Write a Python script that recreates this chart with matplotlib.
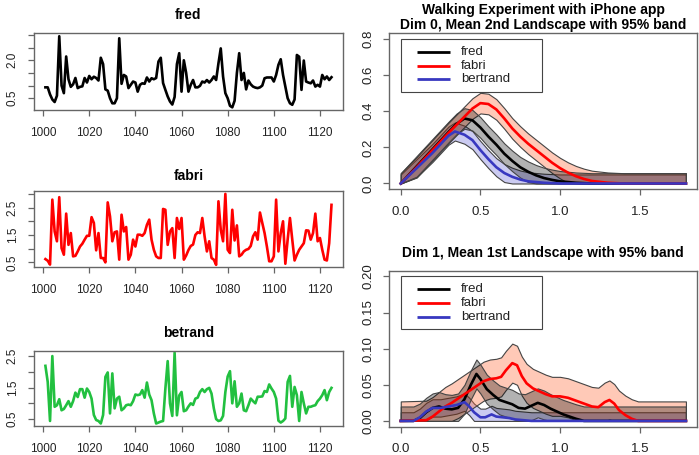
import matplotlib
matplotlib.use("Agg")
import matplotlib.pyplot as plt
import numpy as np

plt.rcParams['font.family'] = ['Liberation Sans', 'DejaVu Sans']

# --- walking time series (index 1001..1125) ---
steps = list(range(1001, 1126))

fred = [0.93, 0.93, 0.65, 0.45, 0.35, 0.6, 2.95, 1.0, 0.7, 2.15,
        1.25, 0.95, 1.05, 1.3, 0.9, 0.95, 0.97, 1.3, 1.12, 1.38,
        1.25, 1.35, 1.3, 1.2, 2.1, 1.85, 0.85, 0.8, 0.5, 0.3,
        0.3, 0.5, 2.87, 1.07, 1.42, 1.36, 0.9, 1.03, 1.16, 1.12,
        0.76, 1.03, 1.09, 1.07, 1.32, 1.16, 1.29, 1.25, 1.3, 1.95,
        2.1, 1.1, 0.83, 0.57, 0.37, 0.25, 0.55, 1.85, 2.28, 0.76,
        2.0, 1.5, 0.76, 1.03, 1.22, 0.93, 0.93, 0.99, 1.16, 1.12,
        1.22, 1.12, 1.22, 1.36, 1.22, 1.88, 2.47, 1.36, 0.7, 0.5,
        0.2, 0.14, 0.4, 1.5, 2.28, 1.22, 1.5, 0.85, 1.2, 1.05,
        0.96, 0.92, 0.9, 0.93, 1.0, 1.29, 1.32, 1.32, 1.32, 1.16,
        1.42, 1.82, 2.04, 1.42, 0.96, 0.5, 0.3, 0.24, 0.45, 2.21,
        2.14, 0.83, 1.99, 1.16, 1.12, 1.09, 1.2, 0.96, 1.03, 0.96,
        1.42, 1.25, 1.36, 1.22, 1.33]

fabri = [0.62, 0.56, 0.42, 2.79, 1.63, 1.27, 2.88, 1.02, 0.78, 2.28,
         1.14, 1.57, 0.72, 0.74, 0.9, 1.08, 1.18, 1.33, 1.47, 1.47,
         2.15, 1.94, 0.94, 1.57, 0.66, 0.66, 0.5, 2.69, 2.18, 1.27,
         1.6, 1.63, 0.6, 2.24, 1.63, 1.79, 0.6, 0.78, 1.33, 1.08,
         1.51, 1.51, 1.47, 1.57, 1.87, 2.06, 1.33, 0.96, 0.72, 0.66,
         0.66, 2.45, 2.42, 1.14, 1.63, 1.75, 0.66, 2.12, 1.72, 2.12,
         0.6, 0.75, 0.95, 1.1, 1.15, 1.5, 1.6, 1.57, 2.12, 1.45,
         0.9, 1.27, 0.66, 0.6, 0.41, 2.73, 1.69, 1.27, 3.0, 0.96,
         0.84, 2.42, 1.3, 1.85, 0.72, 0.78, 0.9, 0.96, 0.99, 1.1,
         1.45, 1.6, 1.33, 2.32, 1.94, 1.57, 1.08, 0.54, 0.54, 0.72,
         2.79, 0.9, 1.57, 2.0, 0.45, 1.33, 2.12, 1.33, 0.57, 0.78,
         0.96, 1.08, 1.2, 1.67, 1.66, 1.33, 1.57, 2.28, 1.27, 1.39,
         0.96, 0.6, 0.57, 1.2, 2.6]

betrand = [2.19, 1.68, 0.44, 2.5, 0.89, 0.94, 1.13, 0.78, 0.82, 0.94,
           1.07, 0.89, 1.07, 1.34, 1.2, 1.45, 1.45, 1.18, 1.47, 1.36,
           1.15, 0.63, 0.47, 0.44, 0.36, 0.63, 1.84, 1.98, 0.68, 1.95,
           0.84, 1.15, 1.21, 0.78, 0.84, 0.94, 0.96, 0.94, 1.07, 1.28,
           1.26, 1.28, 1.42, 1.18, 1.66, 1.28, 1.1, 0.68, 0.36, 0.39,
           0.42, 0.44, 1.47, 2.34, 1.0, 0.6, 2.61, 0.62, 1.25, 1.36,
           0.75, 0.78, 0.9, 1.0, 0.95, 1.15, 1.18, 1.36, 1.45, 1.36,
           1.45, 1.49, 1.31, 0.84, 0.5, 0.44, 0.46, 0.6, 1.36, 1.85,
           2.02, 1.0, 1.7, 0.89, 1.0, 1.31, 0.78, 0.75, 0.94, 1.15,
           1.07, 1.0, 1.21, 1.21, 1.22, 1.39, 1.36, 1.6, 1.47, 1.36,
           1.15, 0.45, 0.39, 0.44, 0.52, 1.68, 1.87, 0.89, 1.52, 1.26,
           0.44, 1.36, 1.0, 0.68, 0.89, 0.89, 0.92, 0.94, 1.07, 1.15,
           1.26, 1.42, 1.1, 1.36, 1.49]

# --- Dim 0, mean 2nd landscape ---
d0_fred_x = [0, 0.1, 0.2, 0.3, 0.35, 0.4, 0.45, 0.5, 0.55, 0.6, 0.65, 0.7, 0.75,
             0.8, 0.85, 0.9, 0.95, 1.0, 1.1, 1.2, 1.79]
d0_fred_y = [0, 0.095, 0.19, 0.285, 0.33, 0.36, 0.35, 0.31, 0.26, 0.215, 0.165,
             0.125, 0.09, 0.065, 0.045, 0.03, 0.02, 0.012, 0.004, 0, 0]
d0_fabri_x = [0, 0.1, 0.2, 0.3, 0.35, 0.4, 0.45, 0.5, 0.55, 0.6, 0.65, 0.7, 0.75,
              0.8, 0.85, 0.9, 0.95, 1.0, 1.05, 1.1, 1.15, 1.2, 1.3, 1.4, 1.79]
d0_fabri_y = [0, 0.09, 0.185, 0.28, 0.325, 0.37, 0.415, 0.445, 0.44, 0.41, 0.36,
              0.305, 0.26, 0.22, 0.185, 0.15, 0.115, 0.085, 0.06, 0.04, 0.025,
              0.014, 0.004, 0, 0]
d0_bert_x = [0, 0.1, 0.2, 0.3, 0.34, 0.4, 0.45, 0.5, 0.55, 0.6, 0.65, 0.7, 0.75,
             0.8, 0.9, 1.0, 1.79]
d0_bert_y = [0, 0.085, 0.17, 0.265, 0.288, 0.27, 0.24, 0.185, 0.135, 0.09, 0.058,
             0.037, 0.022, 0.012, 0.004, 0, 0]
d0_halfwidth = {'fred': 0.057, 'fabri': 0.057, 'bertrand': 0.05}

# --- Dim 1, mean 1st landscape ---
d1_fred_x = [0, 0.08, 0.12, 0.16, 0.2, 0.24, 0.28, 0.32, 0.36, 0.4, 0.44, 0.475,
             0.5, 0.54, 0.58, 0.62, 0.66, 0.7, 0.74, 0.78, 0.82, 0.86, 0.9, 0.94,
             0.98, 1.02, 1.06, 1.1, 1.15, 1.79]
d1_fred_y = [0, 0, 0.004, 0.012, 0.018, 0.02, 0.017, 0.016, 0.018, 0.03, 0.05,
             0.065, 0.058, 0.044, 0.036, 0.029, 0.026, 0.023, 0.018, 0.017, 0.021,
             0.025, 0.022, 0.017, 0.013, 0.009, 0.006, 0.003, 0, 0]
d1_fabri_x = [0, 0.16, 0.2, 0.24, 0.28, 0.32, 0.36, 0.4, 0.44, 0.48, 0.52, 0.56,
              0.6, 0.63, 0.66, 0.7, 0.73, 0.76, 0.79, 0.83, 0.87, 0.91, 0.95, 1.0,
              1.05, 1.1, 1.15, 1.2, 1.24, 1.28, 1.31, 1.34, 1.37, 1.41, 1.45, 1.49,
              1.79]
d1_fabri_y = [0, 0.001, 0.006, 0.013, 0.02, 0.025, 0.031, 0.037, 0.043, 0.049,
              0.055, 0.058, 0.059, 0.061, 0.07, 0.08, 0.077, 0.062, 0.052, 0.045,
              0.041, 0.037, 0.034, 0.034, 0.032, 0.028, 0.024, 0.02, 0.019, 0.026,
              0.029, 0.024, 0.015, 0.008, 0.003, 0, 0]
d1_bert_x = [0, 0.08, 0.12, 0.16, 0.2, 0.25, 0.3, 0.35, 0.4, 0.43, 0.46, 0.5, 0.53,
             0.57, 0.6, 0.64, 0.68, 0.72, 0.77, 0.82, 1.79]
d1_bert_y = [0, 0, 0.005, 0.013, 0.018, 0.018, 0.02, 0.022, 0.026, 0.02, 0.012,
             0.005, 0.005, 0.009, 0.006, 0.005, 0.004, 0.002, 0.001, 0, 0]
d1_halfwidth = {'fred': 0.02, 'fabri': 0.027, 'bertrand': 0.012}

names = ['fred', 'fabri', 'bertrand']
line_cols = {'fred': 'black', 'fabri': 'red', 'bertrand': '#3838c0'}
band_cols = {'fred': (0, 0, 0, 0.3), 'fabri': (1.0, 0.42, 0.22, 0.36),
             'bertrand': (0.25, 0.25, 0.8, 0.27)}

box_col = '#666666'
txt_col = '#222222'

fig = plt.figure(figsize=(6.99, 4.55), dpi=100)


def r_style(ax, fs):
    for s in ax.spines.values():
        s.set_color(box_col)
        s.set_linewidth(1.0)
    ax.tick_params(direction='out', length=4, width=0.9, color=box_col,
                   labelsize=fs, labelcolor=txt_col)
    ax.tick_params(axis='x', pad=8)
    ax.tick_params(axis='y', pad=7, labelrotation=90)
    for t in ax.get_yticklabels():
        t.set_va('center')


def ts_panel(pos, vals, col, title, yticks, ylabels, ylim, tpad):
    ax = fig.add_axes(pos)
    ax.plot(steps, vals, color=col, lw=1.9)
    ax.set_xlim(996.04, 1129.96)
    ax.set_ylim(ylim)
    ax.set_xticks(range(1000, 1121, 20))
    ax.set_yticks(yticks)
    ax.set_yticklabels(ylabels)
    ax.set_title(title, fontsize=10, fontweight='bold', pad=tpad)
    r_style(ax, 8.5)
    return ax


ts_panel([0.0486, 0.758, 0.442, 0.169], fred, 'black', 'fred',
         [0.5, 1.0, 1.5, 2.0, 2.5, 3.0], ['0.5', '', '', '2.0', '', ''], (0.03, 3.07), 10)
ts_panel([0.0486, 0.4125, 0.442, 0.168], fabri, 'red', 'fabri',
         [0.5, 1.0, 1.5, 2.0, 2.5, 3.0], ['0.5', '', '1.5', '', '2.5', ''], (0.32, 3.11), 8)
ts_panel([0.0486, 0.0637, 0.442, 0.1655], betrand, '#22c040', 'betrand',
         [0.5, 1.0, 1.5, 2.0, 2.5], ['0.5', '', '1.5', '', '2.5'], (0.28, 2.67), 10)


def legend_box(ax):
    ax.add_patch(plt.Rectangle((0.037, 0.626), 0.458, 0.337, transform=ax.transAxes,
                               facecolor='white', edgecolor='#444444', lw=0.8, zorder=5))
    for i, nm in enumerate(names):
        yy = 0.88 - 0.088 * i
        ax.plot([0.089, 0.197], [yy, yy], transform=ax.transAxes, color=line_cols[nm],
                lw=2, zorder=6, solid_capstyle='butt')
        ax.text(0.232, yy, nm, transform=ax.transAxes, fontsize=9.5, va='center',
                color=txt_col, zorder=6)


def landscape_panel(pos, curves, halfw, ylim, yticks, ylabels, title, pad):
    ax = fig.add_axes(pos)
    # bands first (blue, salmon, grey), then the mean lines on top
    for nm in ['bertrand', 'fabri', 'fred']:
        x, m = curves[nm]
        m = np.array(m)
        ax.fill_between(x, np.maximum(m - halfw[nm], 0), m + halfw[nm],
                        facecolor=band_cols[nm], edgecolor='#444444', lw=0.8)
    for nm in names:
        x, m = curves[nm]
        ax.plot(x, m, color=line_cols[nm], lw=1.9)
    ax.set_xlim(-0.0716, 1.8616)
    ax.set_ylim(ylim)
    ax.set_xticks([0.0, 0.5, 1.0, 1.5])
    ax.set_xticklabels(['0.0', '0.5', '1.0', '1.5'])
    ax.set_yticks(yticks)
    ax.set_yticklabels(ylabels)
    ax.set_title(title, fontsize=10, fontweight='bold', pad=pad, linespacing=1.1)
    r_style(ax, 9.5)
    legend_box(ax)
    return ax


landscape_panel([0.557, 0.584, 0.4406, 0.343],
                {'fred': (d0_fred_x, d0_fred_y), 'fabri': (d0_fabri_x, d0_fabri_y),
                 'bertrand': (d0_bert_x, d0_bert_y)},
                d0_halfwidth, (-0.032, 0.832), [0, 0.2, 0.4, 0.6, 0.8],
                ['0.0', '0.2', '0.4', '0.6', '0.8'],
                'Walking Experiment with iPhone app\nDim 0, Mean 2nd Landscape with 95% band', 3)
landscape_panel([0.557, 0.0622, 0.4406, 0.343],
                {'fred': (d1_fred_x, d1_fred_y), 'fabri': (d1_fabri_x, d1_fabri_y),
                 'bertrand': (d1_bert_x, d1_bert_y)},
                d1_halfwidth, (-0.008, 0.208), [0, 0.05, 0.1, 0.15, 0.2],
                ['0.00', '0.05', '0.10', '0.15', '0.20'],
                'Dim 1, Mean 1st Landscape with 95% band', 10)

fig.savefig('out.png', dpi=100)
